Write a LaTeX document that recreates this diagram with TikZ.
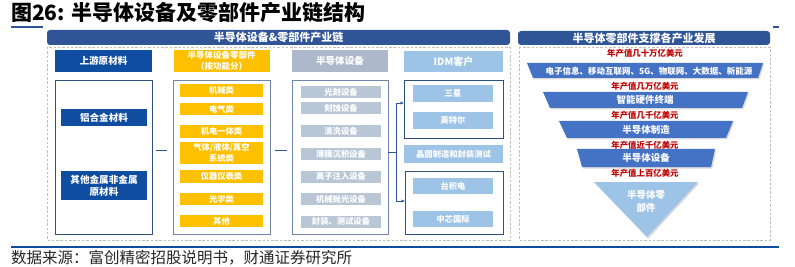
\documentclass[tikz,border=0pt]{standalone}
\usepackage{fontspec}
\setmainfont{Noto Sans CJK SC}
\usetikzlibrary{arrows.meta,shadows}
\definecolor{hdr}{HTML}{2F5597}
\definecolor{deepblue}{HTML}{0E4DA0}
\definecolor{ylw}{HTML}{FFC000}
\definecolor{grayhdr}{HTML}{ADB9CA}
\definecolor{grayitem}{HTML}{B9C6D6}
\definecolor{ltblue}{HTML}{9DC3E6}
\definecolor{trapblue}{HTML}{4472C4}
\definecolor{redtxt}{HTML}{C00000}
\definecolor{framegray}{HTML}{BFBFBF}
\definecolor{outlinec}{HTML}{6F86A8}
\definecolor{darkout}{HTML}{2F4F7F}
\definecolor{srcgray}{HTML}{262626}
\begin{document}
\begin{tikzpicture}[x=1pt,y=-1pt,
  every node/.style={inner sep=0pt, outer sep=0pt},
  fillbox/.style={fill=#1, text=white, align=center, font=\fontsize{8.3}{10.5}\selectfont\bfseries},
  outbox/.style={draw=#1, line width=0.9pt, minimum width=97, minimum height=154},
  hdrbox/.style={fill=hdr, rounded corners=3pt, text=white, font=\fontsize{11}{13}\selectfont\bfseries},
  colhead/.style={font=\fontsize{9.6}{11}\selectfont\bfseries},
  yitem/.style={fillbox=ylw, minimum width=83, minimum height=12.5},
  gitem/.style={fillbox=grayitem, minimum width=80, minimum height=12},
  bitem/.style={fillbox=ltblue, minimum width=80, minimum height=16.5},
  conn/.style={draw=hdr, line width=0.9pt},
  dashframe/.style={draw=framegray, line width=0.8pt, dash pattern=on 2.5pt off 1.8pt},
  redlabel/.style={text=redtxt, font=\fontsize{8.4}{10}\selectfont\bfseries},
  traptext/.style={text=white, align=center, font=\fontsize{9.5}{13}\selectfont\bfseries},
  trapfill/.style={fill=#1, drop shadow={shadow xshift=1.2pt, shadow yshift=-1.5pt, opacity=0.3}}
]
\useasboundingbox (0,0) rectangle (795,267);

% title
\node[anchor=west, font=\fontsize{21}{23}\selectfont\bfseries, text=black] (title) at (11,13) {图26: 半导体设备及零部件产业链结构};
\draw[hdr, line width=1.3pt] (11,27) -- (43,27);
\draw[hdr, line width=1.3pt] (773,27) -- (779,27);

% left panel
\node[hdrbox, minimum width=463, minimum height=15] (lhead) at (278.5,37.5) {半导体设备\&零部件产业链};
\draw[dashframe] (47,47) rectangle (510,240);

% column 1
\node[fillbox=deepblue, colhead, minimum width=97, minimum height=22] (upstream) at (103.5,61) {上游原材料};
\node[outbox=darkout] (leftbox) at (103.5,157) {};
\node[fillbox=deepblue, colhead, minimum width=86, minimum height=17] (alu) at (104,117.5) {铝合金材料};
\node[fillbox=deepblue, minimum width=86, minimum height=29, font=\fontsize{9.6}{12}\selectfont\bfseries] (othermat) at (104,185.5) {其他金属非金属\\原材料};

% column 2
\node[fillbox=ylw, minimum width=96, minimum height=22, font=\fontsize{8.5}{10.5}\selectfont\bfseries] (partshead) at (221.5,61) {半导体设备零部件\\（按功能分）};
\node[outbox=outlinec] (partsbox) at (221.5,157) {};
\node[yitem] (p1) at (221.5,90.5) {机械类};
\node[yitem] (p2) at (221.5,109) {电气类};
\node[yitem] (p3) at (221.5,131.5) {机电一体类};
\node[yitem, minimum height=22] (p4) at (221.5,153) {气体/液体/真空\\系统类};
\node[yitem] (p5) at (221.5,176.5) {仪器仪表类};
\node[yitem] (p6) at (221.5,199) {光学类};
\node[yitem] (p7) at (221.5,221) {其他};

% column 3
\node[fillbox=grayhdr, colhead, minimum width=96, minimum height=22] (eqhead) at (340,61) {半导体设备};
\node[outbox=outlinec, minimum width=96] (eqbox) at (340,157) {};
\node[gitem] (e1) at (341,92) {光刻设备};
\node[gitem] (e2) at (341,108.5) {刻蚀设备};
\node[gitem] (e3) at (341,131) {清洗设备};
\node[gitem] (e4) at (341,154) {薄膜沉积设备};
\node[gitem] (e5) at (341,176.5) {离子注入设备};
\node[gitem] (e6) at (341,199) {机械抛光设备};
\node[gitem] (e7) at (341,221.5) {封装、测试设备};

% column 4
\node[fillbox=ltblue, minimum width=99, minimum height=21, font=\fontsize{10}{12}\selectfont\bfseries] (idmhead) at (453.5,61.5) {IDM客户};
\node[draw=darkout, line width=0.9pt, minimum width=99, minimum height=58] (idmbox) at (453.5,109) {};
\node[bitem] (c1) at (453,93.5) {三星};
\node[bitem] (c2) at (453,120.5) {英特尔};
\node[fillbox=ltblue, minimum width=99, minimum height=18] (fabhead) at (453.5,154) {晶圆制造和封装测试};
\node[draw=darkout, line width=0.9pt, minimum width=98, minimum height=63] (fabbox) at (454,202.5) {};
\node[bitem, minimum height=16] (c3) at (453,186) {台积电};
\node[bitem, minimum height=16] (c4) at (453,219) {中芯国际};

% connectors
\coordinate (y150) at (0,150);
\coordinate (jn) at (396,152);
\coordinate (ya) at (0,103);
\coordinate (yb) at (0,201);
\draw[conn, shorten <=4pt, shorten >=6pt] (leftbox.east |- y150) -- (partsbox.west |- y150);
\draw[conn, shorten <=5pt, shorten >=5pt] (partsbox.east |- y150) -- (eqbox.west |- y150);
\draw[conn] (eqbox.east |- jn) -- (jn);
\draw[conn, -{Latex[length=3.5pt,width=3.5pt]}] (jn) |- (idmbox.west |- ya);
\draw[conn, -{Latex[length=3.5pt,width=3.5pt]}] (jn) |- (fabbox.west |- yb);

% right panel
\node[hdrbox, minimum width=252, minimum height=14] (rhead) at (644,38) {半导体零部件支撑各产业发展};
\draw[dashframe] (519,47) rectangle (770,240);

\node[redlabel] (r1) at (645,53) {年产值几十万亿美元};
\path[trapfill=trapblue] (527,63) -- (763,63) -- (758,78) -- (533,78) -- cycle;
\node[traptext, font=\fontsize{8.5}{10}\selectfont\bfseries] (t1) at (649,71) {电子信息、移动互联网、5G、物联网、大数据、新能源};
\node[redlabel] (r2) at (645,86) {年产值几万亿美元};
\path[trapfill=trapblue] (543,92) -- (748,92) -- (742,108) -- (550,108) -- cycle;
\node[traptext] (t2) at (645,100) {智能硬件终端};
\node[redlabel] (r3) at (645,115) {年产值几千亿美元};
\path[trapfill=trapblue] (559,121) -- (733,121) -- (726,138) -- (567,138) -- cycle;
\node[traptext] (t3) at (646,130) {半导体制造};
\node[redlabel] (r4) at (645,145) {年产值近千亿美元};
\path[trapfill=trapblue] (577,149) -- (715,149) -- (711,167) -- (582,167) -- cycle;
\node[traptext] (t4) at (646,158) {半导体设备};
\node[redlabel] (r5) at (645,173) {年产值上百亿美元};
\path[trapfill=ltblue] (594,182) -- (698,182) -- (647,237) -- cycle;
\node[traptext] (t5) at (646,201) {半导体零\\部件};

% bottom
\draw[deepblue, line width=1.5pt] (11,247) -- (779,247);
\node[anchor=west, text=srcgray, font=\fontsize{15.5}{17}\selectfont] (source) at (11,258) {数据来源：富创精密招股说明书，财通证券研究所};
\end{tikzpicture}
\end{document}
